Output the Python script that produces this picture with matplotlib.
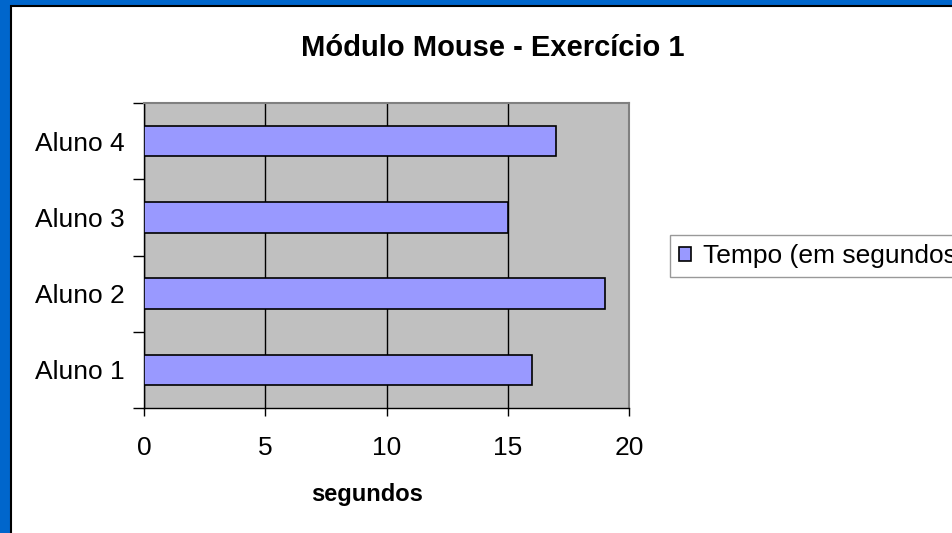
import numpy as np
import matplotlib.pyplot as plt
from matplotlib.patches import Rectangle

plt.rcParams['font.family'] = ['Liberation Sans', 'DejaVu Sans']

# Data
alunos = ['Aluno 1', 'Aluno 2', 'Aluno 3', 'Aluno 4']
tempo = [16, 19, 15, 17]
serie = 'Tempo (em segundos)'

W, H = 953, 533
fig = plt.figure(figsize=(W / 100, H / 100), dpi=100)
fig.patch.set_facecolor('#0066CC')

# white chart area with a black outline, leaving the blue frame at left/top
fig.patches.append(Rectangle((11 / W, -0.1), 1.2, 1.1 - 6 / H, transform=fig.transFigure,
                             facecolor='white', edgecolor='black', lw=1.5, zorder=-1))

ax = fig.add_axes([144 / W, 1 - 408 / H, (629 - 144) / W, (408 - 103) / H])
ax.set_facecolor('#C0C0C0')

y = np.arange(len(alunos))
bars = ax.barh(y, tempo, height=0.4, color='#9999FF', edgecolor='black', lw=1.2,
               label=serie, zorder=3)

ax.set_xlim(0, 20)
ax.set_ylim(-0.5, len(alunos) - 0.5)
ax.set_xticks([0, 5, 10, 15, 20])
ax.tick_params(axis='x', direction='out', length=6, width=1, labelsize=19, pad=14)
ax.grid(axis='x', color='black', lw=1, zorder=1)

ax.set_yticks(y)
ax.set_yticklabels(alunos)
ax.tick_params(axis='y', length=0, labelsize=19, pad=14)
ax.set_yticks(np.arange(-0.5, len(alunos)), minor=True)
ax.tick_params(axis='y', which='minor', direction='out', length=8, width=1)

for s in ['top', 'right']:
    ax.spines[s].set_color('#808080')
    ax.spines[s].set_linewidth(1.5)
for s in ['left', 'bottom']:
    ax.spines[s].set_color('black')
    ax.spines[s].set_linewidth(1)

fig.text(493 / W, 1 - 48 / H, 'Módulo Mouse - Exercício 1', ha='center', va='center',
         fontsize=21, fontweight='bold')
fig.text(367 / W, 1 - 494 / H, 'segundos', ha='center', va='center',
         fontsize=17, fontweight='bold')

leg = fig.legend(handles=[bars], labels=[serie], loc='upper left',
                 bbox_to_anchor=(670 / W, 1 - 235 / H), borderaxespad=0,
                 fontsize=19, frameon=True, fancybox=False, edgecolor='#808080',
                 handlelength=0.45, handleheight=0.45, handletextpad=0.45,
                 borderpad=0.35)
leg.get_frame().set_linewidth(1)

fig.savefig('out.png', dpi=100, facecolor=fig.get_facecolor())
